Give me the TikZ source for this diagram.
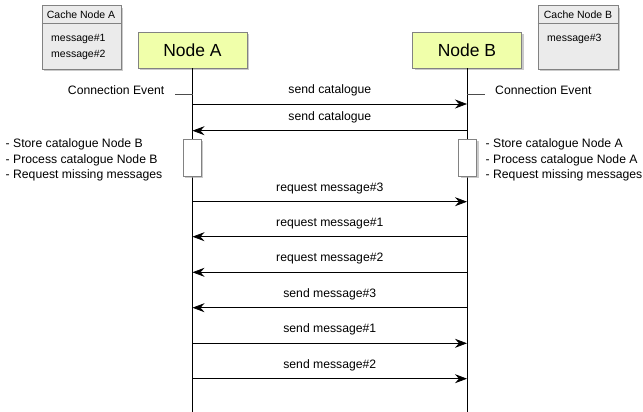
\documentclass[tikz,border=0pt]{standalone}
\usepackage{fontspec}
\setmainfont{Liberation Sans}
\usetikzlibrary{arrows.meta,shadows}
\definecolor{nodefill}{RGB}{240,255,170}
\definecolor{cachefill}{RGB}{235,235,235}
\definecolor{bordergray}{RGB}{130,130,130}
\tikzset{
  px/.style={x=1pt,y=-1pt},
  shad/.style={drop shadow={shadow xshift=2pt,shadow yshift=-2pt,fill=black!35,opacity=0.6}},
  actor/.style={draw=bordergray,fill=nodefill,shad,minimum width=109pt,minimum height=36pt,inner sep=0pt,font=\fontsize{17.5}{20}\selectfont},
  cachebox/.style={draw=bordergray,fill=cachefill,shad},
  small/.style={font=\fontsize{10.5}{12}\selectfont,inner sep=0pt},
  lbl/.style={font=\fontsize{12.2}{14}\selectfont,inner sep=0pt},
  life/.style={draw=black,line width=0.7pt},
  msg/.style={draw=black,line width=0.7pt,-{Stealth[length=12pt,width=9pt,inset=4pt]}},
  actbox/.style={draw=bordergray,fill=white,shad,minimum width=18pt,minimum height=37pt,inner sep=0pt},
}
\begin{document}
\begin{tikzpicture}[px]
\useasboundingbox (0,0) rectangle (643,412);
% caches
\node[cachebox,minimum width=79pt,minimum height=63.5pt,inner sep=0pt,anchor=north west] (cA) at (41.5,5.5) {};
\draw[bordergray] (41.5,23.5) -- (121,23.5);
\node[small] (cAt) at (81,15) {Cache Node A};
\node[small,anchor=west] (cA1) at (51,39) {message\#1};
\node[small,anchor=west] (cA2) at (51,55) {message\#2};

\node[cachebox,minimum width=80.5pt,minimum height=63.5pt,inner sep=0pt,anchor=north west] (cB) at (537.5,5.5) {};
\draw[bordergray] (537.5,23.5) -- (618,23.5);
\node[small] (cBt) at (578,15) {Cache Node B};
\node[small,anchor=west] (cB1) at (547,39) {message\#3};

% actors
\node[actor] (A) at (192.5,50.3) {Node A};
\node[actor] (B) at (467,50.3) {Node B};
\coordinate (Aend) at (192.5,412);
\coordinate (Bend) at (467,412);
\draw[life] (A.south) -- (Aend);
\draw[life] (B.south) -- (Bend);

% connection events
\coordinate (ta1) at (175,94.5);
\coordinate (ta2) at (192.5,94.5);
\coordinate (tb1) at (467,94.5);
\coordinate (tb2) at (485,94.5);
\draw[line width=0.7pt,black!70] (ta1) -- (ta2);
\draw[line width=0.7pt,black!70] (tb1) -- (tb2);
\node[lbl,anchor=east] (ceA) at (164.5,90.5) {Connection Event};
\node[lbl,anchor=west] (ceB) at (495,90.5) {Connection Event};

% activation boxes
\node[actbox,anchor=north] (actA) at (192,138.5) {};
\node[actbox,anchor=north] (actB) at (467.5,138.5) {};
\node[lbl,anchor=west,align=left,font=\fontsize{12.2}{15.6}\selectfont] (nA) at (5.5,160) {- Store catalogue Node B\\- Process catalogue Node B\\- Request missing messages};
\node[lbl,anchor=west,align=left,font=\fontsize{12.2}{15.6}\selectfont] (nB) at (485.5,160) {- Store catalogue Node A\\- Process catalogue Node A\\- Request missing messages};

% messages
\foreach \y/\dir/\t [count=\i] in {104/r/send catalogue,130.7/l/send catalogue,201.7/r/request message\#3,236.7/l/request message\#1,272.3/l/request message\#2,307.7/l/send message\#3,343.3/r/send message\#1,378.7/r/send message\#2}{
  \coordinate (ma\i) at (192.5,\y);
  \coordinate (mb\i) at (467,\y);
  \if r\dir
    \draw[msg] (ma\i) -- (mb\i);
  \else
    \draw[msg] (mb\i) -- (ma\i);
  \fi
  \node[lbl] (ml\i) at (329.8,\y-13.5) {\t};
}
\end{tikzpicture}
\end{document}
